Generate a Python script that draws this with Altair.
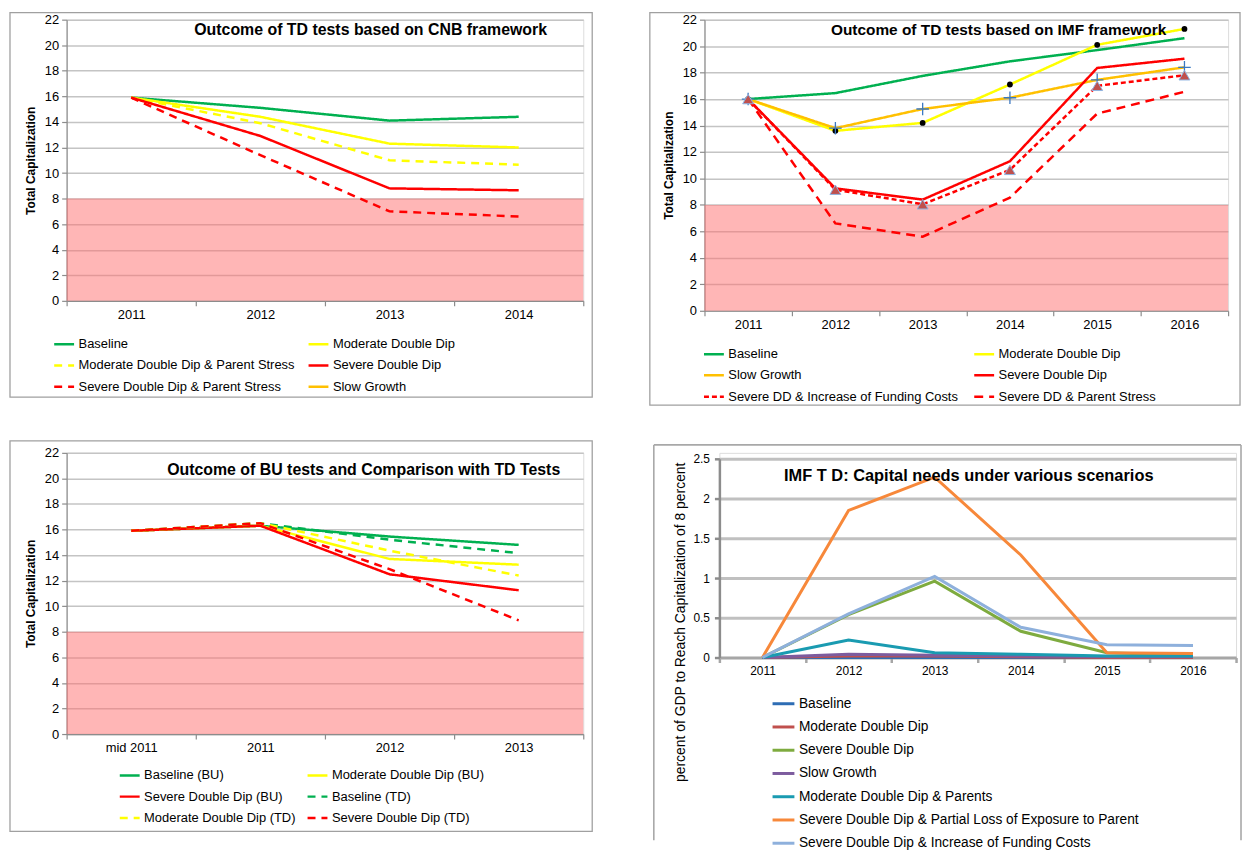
import altair as alt
import pandas as pd

FONT = "Liberation Sans"

# ---------------- Panel 1: TD tests, CNB framework ----------------
cnb_years = ["2011", "2012", "2013", "2014"]
cnb_names = ["Baseline", "Moderate Double Dip", "Moderate Double Dip & Parent Stress",
             "Severe Double Dip", "Severe Double Dip & Parent Stress", "Slow Growth"]
cnb_baseline = [15.9, 15.1, 14.1, 14.4]
cnb_moderate = [15.9, 14.4, 12.3, 12.0]
cnb_moderate_ps = [15.9, 13.9, 11.0, 10.65]
cnb_severe = [15.9, 12.9, 8.8, 8.65]
cnb_severe_ps = [15.9, 11.4, 7.0, 6.6]
cnb_slow = [None, None, None, None]
cnb_colors = ["#00B050", "#FFFF00", "#FFFF00", "#FF0000", "#FF0000", "#FFC000"]
cnb_dashes = [[1, 0], [1, 0], [8, 6], [1, 0], [8, 6], [1, 0]]
cnb_title = "Outcome of TD tests based on CNB framework"

# ---------------- Panel 2: TD tests, IMF framework ----------------
imf_years = ["2011", "2012", "2013", "2014", "2015", "2016"]
imf_names = ["Baseline", "Moderate Double Dip", "Slow Growth", "Severe Double Dip",
             "Severe DD & Increase of Funding Costs", "Severe DD & Parent Stress"]
imf_baseline = [16.0, 16.45, 17.75, 18.85, 19.7, 20.6]
imf_moderate = [16.0, 13.6, 14.2, 17.1, 20.1, 21.3]
imf_slow = [16.0, 13.8, 15.25, 16.1, 17.45, 18.4]
imf_severe = [16.0, 9.25, 8.4, 11.3, 18.35, 19.05]
imf_severe_funding = [16.0, 9.15, 8.05, 10.65, 17.0, 17.8]
imf_severe_ps = [16.0, 6.6, 5.6, 8.55, 14.9, 16.55]
imf_colors = ["#00B050", "#FFFF00", "#FFC000", "#FF0000", "#FF0000", "#FF0000"]
imf_dashes = [[1, 0], [1, 0], [1, 0], [1, 0], [5, 3], [9, 6]]
imf_title = "Outcome of TD tests based on IMF framework"

# ---------------- Panel 3: BU tests vs TD tests ----------------
bu_cats = ["mid 2011", "2011", "2012", "2013"]
bu_names = ["Baseline (BU)", "Moderate Double Dip (BU)", "Severe Double Dip (BU)",
            "Baseline (TD)", "Moderate Double Dip (TD)", "Severe Double Dip (TD)"]
bu_baseline_bu = [15.9, 16.3, 15.45, 14.8]
bu_moderate_bu = [15.9, 16.3, 13.7, 13.25]
bu_severe_bu = [15.9, 16.3, 12.5, 11.25]
bu_baseline_td = [15.9, 16.5, 15.2, 14.15]
bu_moderate_td = [15.9, 16.5, 14.35, 12.4]
bu_severe_td = [15.9, 16.5, 12.9, 8.9]
bu_colors = ["#00B050", "#FFFF00", "#FF0000", "#00B050", "#FFFF00", "#FF0000"]
bu_dashes = [[1, 0], [1, 0], [1, 0], [8, 6], [8, 6], [8, 6]]
bu_title = "Outcome of BU tests and Comparison with TD Tests"

# ---------------- Panel 4: IMF TD capital needs ----------------
need_years = ["2011", "2012", "2013", "2014", "2015", "2016"]
need_names = ["Baseline", "Moderate Double Dip", "Severe Double Dip", "Slow Growth",
              "Moderate Double Dip & Parents",
              "Severe Double Dip & Partial Loss of Exposure to Parent",
              "Severe Double Dip & Increase of Funding Costs"]
need_baseline = [0.0, 0.0, 0.0, 0.0, 0.0, 0.0]
need_moderate = [0.0, 0.02, 0.02, 0.01, 0.0, 0.0]
need_severe = [0.0, 0.54, 0.96, 0.33, 0.06, 0.03]
need_slow = [0.0, 0.04, 0.03, 0.02, 0.01, 0.01]
need_moderate_parents = [0.0, 0.22, 0.06, 0.04, 0.02, 0.02]
need_severe_partial = [0.0, 1.85, 2.27, 1.29, 0.06, 0.05]
need_severe_funding = [0.0, 0.55, 1.02, 0.38, 0.16, 0.15]
need_colors = ["#2E6DB4", "#C0504D", "#7EAB3F", "#7D5C9E", "#1A9BB1", "#F7883A", "#8EB0DC"]
need_title = "IMF T D: Capital needs under various scenarios"
need_ytitle = "percent of GDP to Reach Capitalization of 8 percent"

# minimum capital requirement zone
threshold = [0, 8]
cap_ticks = list(range(0, 23, 2))
need_ticks = [0, 0.5, 1, 1.5, 2, 2.5]
ytitle_cap = "Total Capitalization"


def long_df(cats, names, series):
    rows = []
    for name, vals in zip(names, series):
        for c, v in zip(cats, vals):
            if v is not None:
                rows.append({"cat": c, "series": name, "value": v})
    return pd.DataFrame(rows, columns=["cat", "series", "value"])


def colmajor(lst, ncols=2):
    """Reorder a row-major list so that a column-filled legend reads row by row."""
    nrows = -(-len(lst) // ncols)
    out = []
    for c in range(ncols):
        for r in range(nrows):
            i = r * ncols + c
            if i < len(lst):
                out.append(lst[i])
    return out


def x_enc(cats, lab_size=13, dom_w=1.2, dom_c="#8C8C8C"):
    return alt.X("cat:N",
                 scale=alt.Scale(type="band", domain=cats, paddingInner=0, paddingOuter=0),
                 axis=alt.Axis(title=None, labelAngle=0, tickBand="extent", tickSize=5,
                               tickColor=dom_c, domainColor=dom_c, domainWidth=dom_w,
                               tickWidth=dom_w, labelFont=FONT, labelFontSize=lab_size,
                               labelColor="black", labelPadding=3, grid=False))


def y_enc(field, domain, ticks, title, tx, ty, weight="bold", tsize=12, lab_size=13,
          grid_w=1.5, grid_c="#C4C4C4", dom_w=1.2, fmt="~g", lab_pad=3, rng=None):
    sc = alt.Scale(domain=domain, nice=False, zero=True)
    if rng is not None:
        sc = alt.Scale(domain=domain, nice=False, zero=True, range=rng)
    return alt.Y(field, scale=sc,
                 axis=alt.Axis(title=title, values=ticks, format=fmt, titleX=tx, titleY=ty,
                               titleFont=FONT, titleFontSize=tsize, titleFontWeight=weight,
                               titleColor="black", titleAngle=-90, titleBaseline="middle",
                               titleAlign="center",
                               labelFont=FONT, labelFontSize=lab_size, labelColor="black",
                               labelPadding=lab_pad, tickSize=5, tickColor="#8C8C8C",
                               tickWidth=dom_w, domainColor="#8C8C8C", domainWidth=dom_w,
                               grid=True, gridColor=grid_c, gridWidth=grid_w))


def legend(lx, ly, cols, col_pad, row_pad, sym=400, lab_size=13, sw=2.5):
    return alt.Legend(title=None, orient="none", legendX=lx, legendY=ly, columns=cols,
                      columnPadding=col_pad, rowPadding=row_pad, symbolType="stroke",
                      symbolSize=sym, symbolStrokeWidth=sw, labelFont=FONT,
                      labelFontSize=lab_size, labelColor="black", labelLimit=500,
                      labelOffset=3, padding=0)


def series_scales(names, colors, dashes, lg):
    order = colmajor(names)
    cmap = dict(zip(names, colors))
    dmap = dict(zip(names, dashes))
    color = alt.Color("series:N", scale=alt.Scale(domain=order, range=[cmap[n] for n in order]),
                      legend=lg)
    dash = alt.StrokeDash("series:N", scale=alt.Scale(domain=order, range=[dmap[n] for n in order]),
                          legend=lg)
    return color, dash


def frame(x1, x2, y1, y2):
    return alt.Chart(pd.DataFrame({"f": [0]})).mark_rect(
        fill="white", fillOpacity=0, stroke="#A0A0A0", strokeWidth=1.3
    ).encode(x=alt.value(x1), x2=alt.value(x2), y=alt.value(y1), y2=alt.value(y2))


def title_text(text, x, y, size=16, weight="bold"):
    return alt.Chart(pd.DataFrame({"t": [text]})).mark_text(
        font=FONT, fontSize=size, fontWeight=weight, align="center", baseline="middle",
        color="black"
    ).encode(text="t:N", x=alt.value(x), y=alt.value(y))


def band_layer(w, yenc):
    return alt.Chart(pd.DataFrame({"lo": [threshold[0]], "hi": [threshold[1]]})).mark_rect(
        color="#FF6D6D", opacity=0.5
    ).encode(x=alt.value(0), x2=alt.value(w), y=yenc, y2="hi:Q")


# ---------------- build panel 1 ----------------
W1, H1 = 520, 283
df1 = long_df(cnb_years, cnb_names, [cnb_baseline, cnb_moderate, cnb_moderate_ps,
                                     cnb_severe, cnb_severe_ps, cnb_slow])
ycap1 = dict(domain=[0, 22], ticks=cap_ticks, title=ytitle_cap, tx=-36, ty=H1 / 2)
c1, d1 = series_scales(cnb_names, cnb_colors, cnb_dashes, legend(-14, 315, 2, 8, 2.5))
p1 = alt.layer(
    frame(-57, 529, -7, 380),
    band_layer(W1, y_enc("lo:Q", **ycap1)),
    alt.Chart(df1).mark_line(strokeWidth=2.5).encode(
        x=x_enc(cnb_years), y=y_enc("value:Q", **ycap1), color=c1, strokeDash=d1),
    title_text(cnb_title, 306, 10, size=16),
).properties(width=W1, height=H1)

# ---------------- build panel 2 ----------------
W2, H2 = 527, 293
df2 = long_df(imf_years, imf_names, [imf_baseline, imf_moderate, imf_slow, imf_severe,
                                     imf_severe_funding, imf_severe_ps])
ycap2 = dict(domain=[0, 22], ticks=cap_ticks, title=ytitle_cap, tx=-36, ty=H2 / 2)
c2, d2 = series_scales(imf_names, imf_colors, imf_dashes, legend(-2, 325, 2, 10, 2.5))
xe2 = x_enc(imf_years)
p2 = alt.layer(
    frame(-55, 539, -7, 388),
    band_layer(W2, y_enc("lo:Q", **ycap2)),
    alt.Chart(df2).mark_line(strokeWidth=2.5).encode(
        x=xe2, y=y_enc("value:Q", **ycap2), color=c2, strokeDash=d2),
    alt.Chart(df2).transform_filter(alt.datum.series == imf_names[1]).mark_point(
        shape="circle", filled=True, color="black", size=34, opacity=1
    ).encode(x=xe2, y=y_enc("value:Q", **ycap2)),
    alt.Chart(df2).transform_filter(alt.datum.series == imf_names[2]).mark_point(
        shape="M-1,0H1M0,-1V1", filled=False, color="#3A78C2", strokeWidth=1.3, size=160, opacity=1
    ).encode(x=xe2, y=y_enc("value:Q", **ycap2)),
    alt.Chart(df2).transform_filter(alt.datum.series == imf_names[4]).mark_point(
        shape="triangle-up", filled=True, fill="#C0504D", stroke="#8EB4E3", strokeWidth=1,
        size=120, opacity=1
    ).encode(x=xe2, y=y_enc("value:Q", **ycap2)),
    title_text(imf_title, 296, 10, size=15.5),
).properties(width=W2, height=H2)

# ---------------- build panel 3 ----------------
W3, H3 = 520, 283
df3 = long_df(bu_cats, bu_names, [bu_baseline_bu, bu_moderate_bu, bu_severe_bu,
                                  bu_baseline_td, bu_moderate_td, bu_severe_td])
ycap3 = dict(domain=[0, 22], ticks=cap_ticks, title=ytitle_cap, tx=-36, ty=H3 / 2)
c3, d3 = series_scales(bu_names, bu_colors, bu_dashes, legend(52, 313, 2, 6, 2.5))
p3 = alt.layer(
    frame(-57, 529, -12, 381),
    band_layer(W3, y_enc("lo:Q", **ycap3)),
    alt.Chart(df3).mark_line(strokeWidth=2.5).encode(
        x=x_enc(bu_cats), y=y_enc("value:Q", **ycap3), color=c3, strokeDash=d3),
    title_text(bu_title, 299, 17, size=16),
).properties(width=W3, height=H3)

# ---------------- build panel 4 ----------------
# plot area sits 6px lower than the neighbouring panel's (scale range offset)
OFF4 = 6
W4, H4 = 520, 200 + OFF4
df4 = long_df(need_years, need_names, [need_baseline, need_moderate, need_severe, need_slow,
                                       need_moderate_parents, need_severe_partial,
                                       need_severe_funding])
yneed = dict(domain=[0, 2.5], ticks=need_ticks, title=need_ytitle, tx=-39, ty=164 + OFF4,
             weight="normal", tsize=14, lab_size=12, grid_w=3, grid_c="#C0C0C0", dom_w=2.5,
             lab_pad=5, rng=[H4, OFF4])
lg4 = legend(52, 234 + OFF4, 1, 0, 3.4, sym=484, lab_size=13.8, sw=3)


def edge(x1, x2, y1, y2):
    return alt.Chart(pd.DataFrame({"e": [0]})).mark_rule(color="#A8A8A8", strokeWidth=1.6).encode(
        x=alt.value(x1), x2=alt.value(x2), y=alt.value(y1), y2=alt.value(y2))


p4 = alt.layer(
    edge(-66, 525, -8, -8),
    edge(-66, -66, -8, 390),
    edge(525, 525, -8, 390),
    alt.Chart(df4).mark_line(strokeWidth=3).encode(
        x=x_enc(need_years, lab_size=12, dom_w=2.5, dom_c="#A6A6A6"),
        y=y_enc("value:Q", **yneed),
        color=alt.Color("series:N", scale=alt.Scale(domain=need_names, range=need_colors), legend=lg4),
    ),
    title_text(need_title, 251, 17 + OFF4, size=16.5, weight="bold"),
).properties(width=W4, height=H4)

ind = dict(color="independent", strokeDash="independent")
top = alt.hconcat(p1, p2, spacing=54).resolve_scale(**ind).resolve_legend(**ind)
bottom = alt.hconcat(p3, p4, spacing=58).resolve_scale(**ind).resolve_legend(**ind)
chart = alt.vconcat(top, bottom, spacing=32).resolve_scale(**ind).resolve_legend(**ind).properties(
    padding=0
).configure_view(strokeWidth=0).configure(font=FONT, padding=0)

chart.save("out.html", embed_options={"renderer": "svg", "actions": False})
